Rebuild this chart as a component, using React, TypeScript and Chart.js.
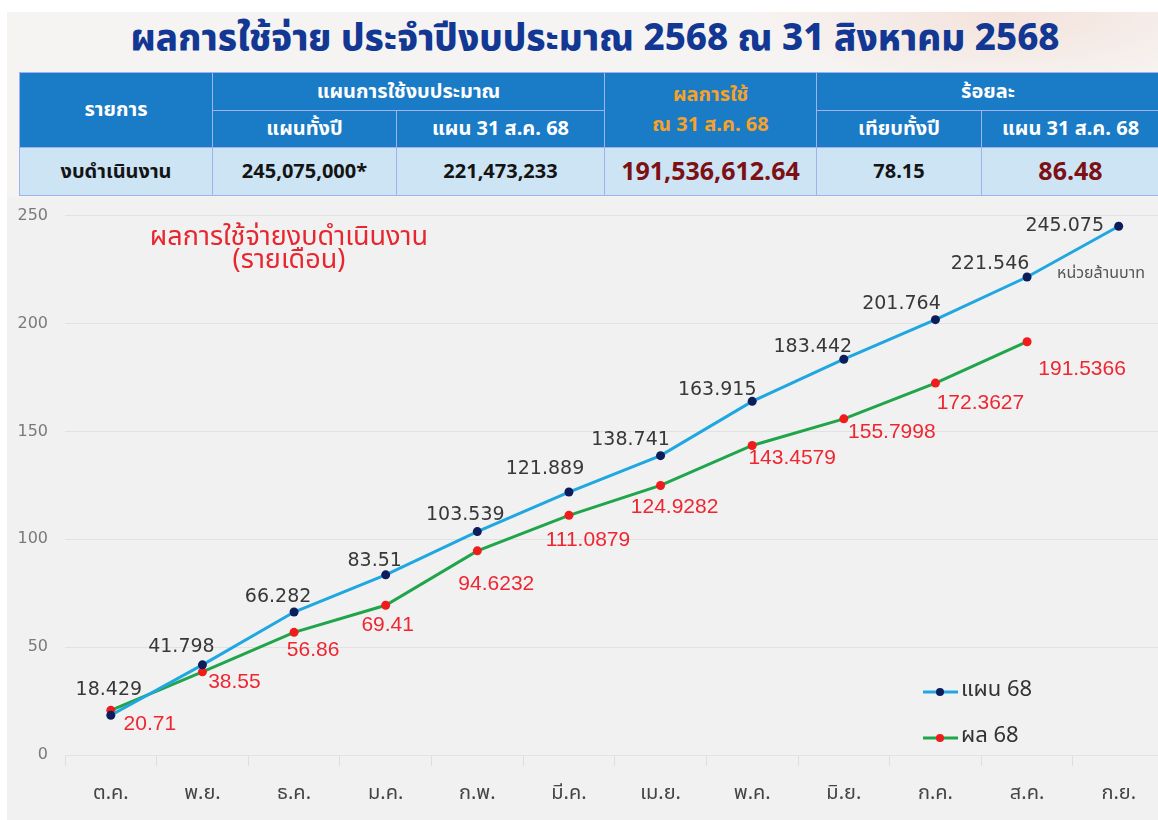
import React, { useEffect, useRef } from "react";
import { Chart, registerables } from "chart.js";

Chart.register(...registerables);

// ---------- data ----------
const months = ["ต.ค.", "พ.ย.", "ธ.ค.", "ม.ค.", "ก.พ.", "มี.ค.", "เม.ย.", "พ.ค.", "มิ.ย.", "ก.ค.", "ส.ค.", "ก.ย."];
const planValues = [18.429, 41.798, 66.282, 83.51, 103.539, 121.889, 138.741, 163.915, 183.442, 201.764, 221.546, 245.075];
const actualValues = [20.71, 38.55, 56.86, 69.41, 94.6232, 111.0879, 124.9282, 143.4579, 155.7998, 172.3627, 191.5366, null];
const planLabels = ["18.429", "41.798", "66.282", "83.51", "103.539", "121.889", "138.741", "163.915", "183.442", "201.764", "221.546", "245.075"];
const actualLabels = ["20.71", "38.55", "56.86", "69.41", "94.6232", "111.0879", "124.9282", "143.4579", "155.7998", "172.3627", "191.5366"];
const seriesNames = ["แผน 68", "ผล 68"];
const yMin = 0;
const yMax = 250;
const yStep = 50;

const titleText = "ผลการใช้จ่าย ประจำปีงบประมาณ 2568 ณ 31 สิงหาคม 2568";
const chartNote = ["ผลการใช้จ่ายงบดำเนินงาน", "(รายเดือน)"];
const unitText = "หน่วยล้านบาท";

const headItem = "รายการ";
const headPlanGroup = "แผนการใช้งบประมาณ";
const headPlanYear = "แผนทั้งปี";
const headPlanDate = "แผน 31 ส.ค. 68";
const headResult = ["ผลการใช้", "ณ 31 ส.ค. 68"];
const headPercent = "ร้อยละ";
const headPctYear = "เทียบทั้งปี";
const headPctDate = "แผน 31 ส.ค. 68";
const rowValues = ["งบดำเนินงาน", "245,075,000*", "221,473,233", "191,536,612.64", "78.15", "86.48"];

// ---------- label placement (offsets relative to each point) ----------
const planDx = [-2, -21, -16, -11, -12, -24, -30, -35, -31, -34, -37, -54];
const planDy = [-25, -18, -15, -14, -17, -23, -16, -11, -12, -16, -13, 0];
const actualDx = [39, 32, 19, 2, 19, 19, 14, 40, 48, 45, 55];
const actualDy = [14, 10, 18, 20, 33, 25, 22, 13, 13, 20, 27];

const THAI = "'Noto Sans Thai', 'Noto Sans', 'DejaVu Sans', sans-serif";
const PLAN_LINE = "#20a7e2";
const PLAN_POINT = "#0c1d5c";
const ACT_LINE = "#20a54a";
const ACT_POINT = "#f01c1c";

const labelPlugin = {
  id: "valueLabels",
  afterDatasetsDraw(chart: any) {
    const ctx = chart.ctx;
    ctx.save();
    ctx.textBaseline = "middle";
    ctx.textAlign = "center";
    const m0 = chart.getDatasetMeta(0);
    ctx.font = "19px 'DejaVu Sans', sans-serif";
    ctx.fillStyle = "#383838";
    m0.data.forEach((p: any, i: number) => {
      ctx.fillText(planLabels[i], p.x + planDx[i], p.y + planDy[i]);
    });
    const m1 = chart.getDatasetMeta(1);
    ctx.font = "21px 'Liberation Sans', Arial, sans-serif";
    ctx.fillStyle = "#ef2631";
    m1.data.forEach((p: any, i: number) => {
      if (actualValues[i] == null || !actualLabels[i]) return;
      ctx.fillText(actualLabels[i], p.x + actualDx[i], p.y + actualDy[i]);
    });

    const area = chart.chartArea;
    // note text
    ctx.fillStyle = "#e8262f";
    ctx.font = `27px ${THAI}`;
    ctx.fillText(chartNote[0], area.left + 224, area.top + 24);
    ctx.fillText(chartNote[1], area.left + 224, area.top + 47);
    // unit text
    ctx.textAlign = "left";
    ctx.fillStyle = "#555";
    ctx.font = `16px ${THAI}`;
    ctx.fillText(unitText, area.left + 992, area.top + 59);

    // legend
    const items = [
      { line: PLAN_LINE, point: PLAN_POINT, text: seriesNames[0], y: area.bottom - 63 },
      { line: ACT_LINE, point: ACT_POINT, text: seriesNames[1], y: area.bottom - 17 },
    ];
    const lx = area.left + 858;
    items.forEach((it) => {
      ctx.strokeStyle = it.line;
      ctx.lineWidth = 3;
      ctx.beginPath();
      ctx.moveTo(lx, it.y);
      ctx.lineTo(lx + 35, it.y);
      ctx.stroke();
      ctx.fillStyle = it.point;
      ctx.beginPath();
      ctx.arc(lx + 17, it.y, 4, 0, Math.PI * 2);
      ctx.fill();
      ctx.fillStyle = "#333";
      ctx.font = `22px ${THAI}`;
      ctx.textAlign = "left";
      ctx.fillText(it.text, lx + 38, it.y);
    });
    ctx.restore();
  },
};

function ChartCanvas() {
  const ref = useRef<HTMLCanvasElement>(null);
  useEffect(() => {
    if (!ref.current) return;
    const chart = new Chart(ref.current, {
      type: "line",
      data: {
        labels: months,
        datasets: [
          {
            label: seriesNames[0],
            data: planValues,
            borderColor: PLAN_LINE,
            borderWidth: 3,
            pointRadius: 4.5,
            pointBackgroundColor: PLAN_POINT,
            pointBorderWidth: 0,
            tension: 0,
          },
          {
            label: seriesNames[1],
            data: actualValues,
            borderColor: ACT_LINE,
            borderWidth: 3,
            pointRadius: 4.5,
            pointBackgroundColor: ACT_POINT,
            pointBorderWidth: 0,
            tension: 0,
          },
        ],
      },
      options: {
        animation: false,
        responsive: false,
        maintainAspectRatio: false,
        layout: { padding: { top: 7, right: 0, left: 0, bottom: 0 } },
        plugins: { legend: { display: false }, tooltip: { enabled: false } },
        scales: {
          x: {
            offset: true,
            grid: { offset: true, drawOnChartArea: false, drawTicks: true, tickLength: 11, color: "#dedede" },
            border: { display: false },
            ticks: { font: { size: 20, family: THAI }, color: "#454545", padding: 17 },
            afterFit: (s: any) => {
              s.height = 66;
            },
          },
          y: {
            min: yMin,
            max: yMax,
            grid: { color: "#e2e2e2", drawTicks: false },
            border: { display: false },
            ticks: { stepSize: yStep, font: { size: 16, family: "'DejaVu Sans', sans-serif" }, color: "#7a7a7a", padding: 17 },
            afterFit: (s: any) => {
              s.width = 58;
            },
          },
        },
      },
      plugins: [labelPlugin],
    } as any);
    return () => chart.destroy();
  }, []);
  return <canvas ref={ref} width={1162} height={632} style={{ position: "absolute", left: 7, top: 189, width: 1162, height: 632 }} />;
}

const border = "1px solid #9fb1ee";
const headCell: React.CSSProperties = {
  background: "#1a7bc6",
  color: "#ffffff",
  fontWeight: 700,
  fontSize: 20,
  textAlign: "center",
  border,
  padding: 0,
  fontFamily: THAI,
};
const dataCell: React.CSSProperties = {
  background: "#cde4f5",
  color: "#141414",
  fontWeight: 700,
  fontSize: 20,
  textAlign: "center",
  border,
  padding: 0,
  fontFamily: THAI,
};
const bigRed: React.CSSProperties = { ...dataCell, color: "#7c1014", fontSize: 25 };

export default function App() {
  return (
    <div style={{ position: "fixed", left: 0, top: 0, width: 1158, height: 820, background: "#ffffff", overflow: "hidden" }}>
      <div
        style={{
          position: "absolute",
          left: 7,
          top: 12,
          width: 1151,
          height: 808,
          background: "radial-gradient(ellipse 260px 80px at 1000px 0px, #f4e2da 0%, #f6f4f3 100%)",
        }}
      />
      <div
        style={{
          position: "absolute",
          left: 7,
          top: 12,
          width: 1151,
          height: 54,
          lineHeight: "54px",
          textAlign: "center",
          color: "#123893",
          fontFamily: THAI,
          fontWeight: 800,
          fontSize: 36.7,
          paddingLeft: 25,
          boxSizing: "border-box",
          whiteSpace: "nowrap",
        }}
      >
        {titleText}
      </div>
      <table
        style={{
          position: "absolute",
          left: 19,
          top: 72,
          borderCollapse: "collapse",
          tableLayout: "fixed",
          width: 1140,
        }}
      >
        <colgroup>
          <col style={{ width: 193 }} />
          <col style={{ width: 184 }} />
          <col style={{ width: 208 }} />
          <col style={{ width: 212 }} />
          <col style={{ width: 165 }} />
          <col style={{ width: 178 }} />
        </colgroup>
        <tbody>
          <tr style={{ height: 38 }}>
            <td rowSpan={2} style={headCell}>{headItem}</td>
            <td colSpan={2} style={headCell}>{headPlanGroup}</td>
            <td rowSpan={2} style={{ ...headCell, color: "#f6a229", lineHeight: "30px" }}>
              {headResult[0]}
              <br />
              {headResult[1]}
            </td>
            <td colSpan={2} style={headCell}>{headPercent}</td>
          </tr>
          <tr style={{ height: 37 }}>
            <td style={headCell}>{headPlanYear}</td>
            <td style={headCell}>{headPlanDate}</td>
            <td style={headCell}>{headPctYear}</td>
            <td style={headCell}>{headPctDate}</td>
          </tr>
          <tr style={{ height: 48 }}>
            <td style={dataCell}>{rowValues[0]}</td>
            <td style={dataCell}>{rowValues[1]}</td>
            <td style={dataCell}>{rowValues[2]}</td>
            <td style={bigRed}>{rowValues[3]}</td>
            <td style={dataCell}>{rowValues[4]}</td>
            <td style={bigRed}>{rowValues[5]}</td>
          </tr>
        </tbody>
      </table>
      <div style={{ position: "absolute", left: 7, top: 197, width: 1151, height: 623, background: "#f1f1f1" }} />
      <ChartCanvas />
    </div>
  );
}
